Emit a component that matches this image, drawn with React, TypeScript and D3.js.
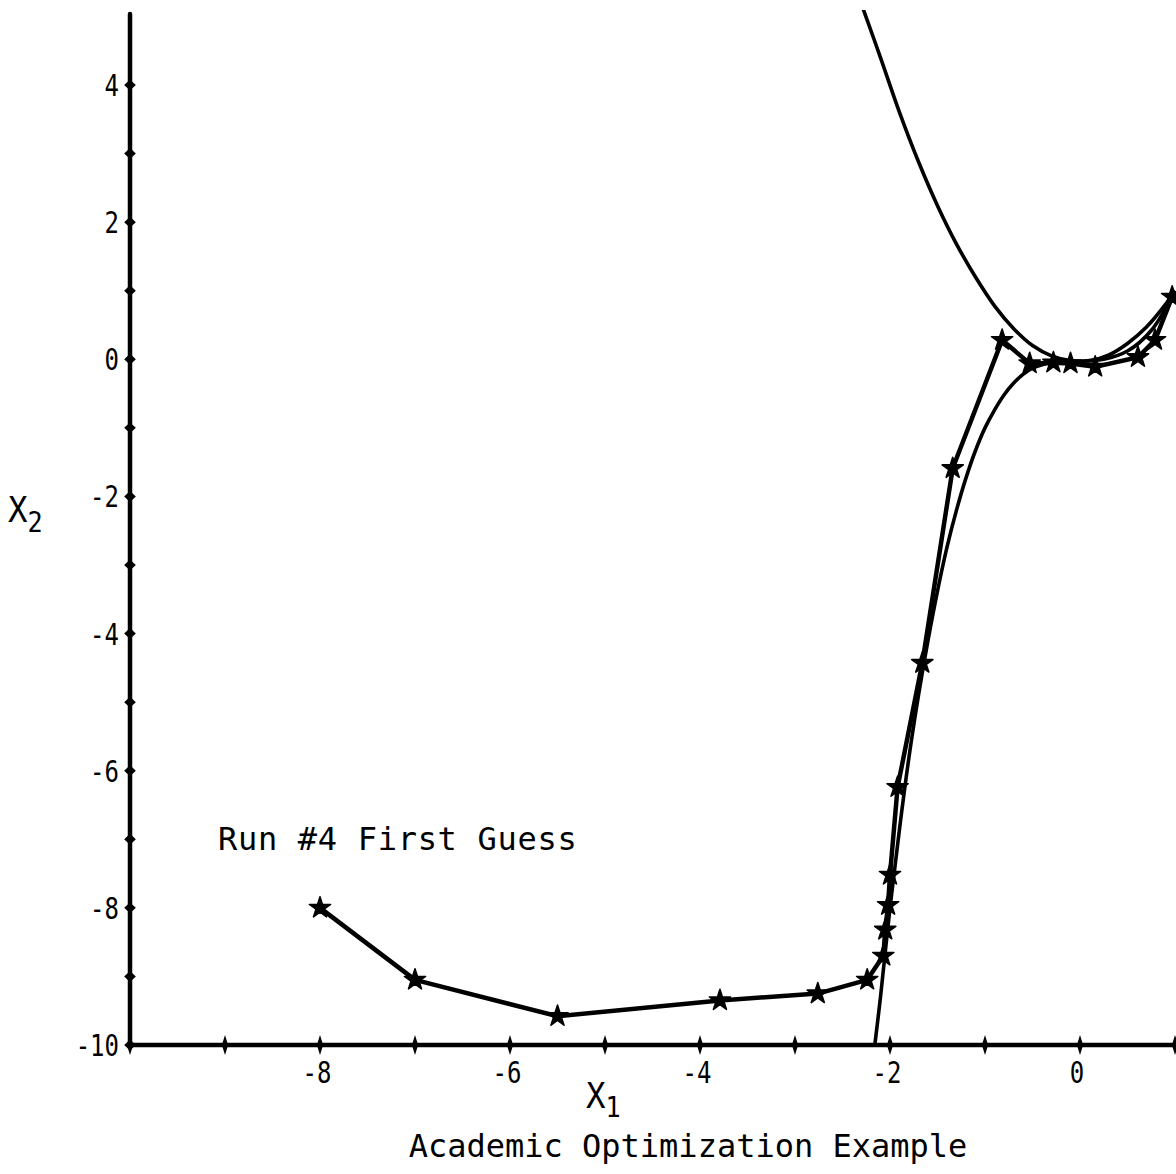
import { useRef, useEffect } from "react";
import * as d3 from "d3";

// tick values on both axes
const xTicks = [-10, -9, -8, -7, -6, -5, -4, -3, -2, -1, 0, 1];
const xTickLabels = [-8, -6, -4, -2, 0];
const yTicks = [-10, -9, -8, -7, -6, -5, -4, -3, -2, -1, 0, 1, 2, 3, 4];
const yTickLabels = [4, 2, 0, -2, -4, -6, -8, -10];

// upper boundary curve
const upperX = [-2.28, -2.1, -1.9, -1.7, -1.5, -1.3, -1.1, -0.9, -0.7, -0.5, -0.3, -0.1, 0.1, 0.3, 0.5, 0.7, 0.9, 1.0];
const upperY = [5.1, 4.4, 3.6, 2.88, 2.24, 1.68, 1.2, 0.78, 0.45, 0.2, 0.05, -0.02, -0.02, 0.06, 0.23, 0.47, 0.8, 1.0];

// lower boundary curve
const lowerX = [-2.16, -2.1, -2.0, -1.9, -1.8, -1.7, -1.6, -1.5, -1.4, -1.3, -1.2, -1.1, -1.0, -0.9, -0.8, -0.7, -0.6, -0.5, -0.4, -0.3, -0.15, 0, 0.25, 0.5, 0.75, 1.0];
const lowerY = [-10, -9.3, -8.0, -6.85, -5.8, -4.9, -4.1, -3.38, -2.74, -2.2, -1.73, -1.33, -1.0, -0.74, -0.52, -0.35, -0.22, -0.13, -0.08, -0.05, -0.04, -0.03, 0.0, 0.12, 0.42, 1.0];

// run #4 iterates, starting from the first guess
const runX = [-8.0, -7.0, -5.5, -3.79, -2.76, -2.24, -2.07, -2.05, -2.02, -2.0, -1.92, -1.66, -1.34, -0.82, -0.53, -0.28, -0.1, 0.16, 0.61, 0.79, 0.97];
const runY = [-8.0, -9.05, -9.58, -9.35, -9.25, -9.05, -8.7, -8.32, -7.96, -7.52, -6.24, -4.43, -1.59, 0.28, -0.06, -0.05, -0.06, -0.11, 0.03, 0.28, 0.91];

const W = 1176;
const H = 1174;

export default function App() {
  const svgRef = useRef<SVGSVGElement>(null);

  useEffect(() => {
    const svg = d3.select(svgRef.current);
    svg.selectAll("*").remove();

    const x = d3.scaleLinear().domain([-10, 0]).range([130, 1080]);
    const y = d3.scaleLinear().domain([-10, 4]).range([1045, 85]);

    // clip the data area
    svg
      .append("defs")
      .append("clipPath")
      .attr("id", "plot")
      .append("rect")
      .attr("x", 130)
      .attr("y", 10)
      .attr("width", W - 130)
      .attr("height", 1040);

    const g = svg.append("g");

    const curve = (xs: number[], ys: number[]) =>
      d3
        .line<number>()
        .curve(d3.curveCatmullRom)
        .x((_, i) => x(xs[i]))
        .y((_, i) => y(ys[i]))(xs);

    const plot = g.append("g").attr("clip-path", "url(#plot)");

    plot
      .append("path")
      .attr("d", curve(upperX, upperY))
      .attr("fill", "none")
      .attr("stroke", "#000")
      .attr("stroke-width", 3.6);

    plot
      .append("path")
      .attr("d", curve(lowerX, lowerY))
      .attr("fill", "none")
      .attr("stroke", "#000")
      .attr("stroke-width", 3.6);

    plot
      .append("path")
      .attr(
        "d",
        d3
          .line<number>()
          .x((_, i) => x(runX[i]))
          .y((_, i) => y(runY[i]))(runX)
      )
      .attr("fill", "none")
      .attr("stroke", "#000")
      .attr("stroke-width", 4.5)
      .attr("stroke-linejoin", "round");

    plot
      .append("g")
      .selectAll("path")
      .data(runX)
      .join("path")
      .attr("transform", (d, i) => `translate(${x(d)},${y(runY[i])})`)
      .attr("d", d3.symbol(d3.symbolStar, 140)())
      .attr("fill", "#000")
      .attr("stroke", "#000")
      .attr("stroke-width", 1.5)
      .attr("stroke-linejoin", "round");

    // axes
    g.append("line")
      .attr("x1", x(-10))
      .attr("x2", x(-10))
      .attr("y1", 14)
      .attr("y2", y(-10))
      .attr("stroke", "#000")
      .attr("stroke-width", 4.5)
      .attr("stroke-linecap", "round");

    g.append("line")
      .attr("x1", x(-10))
      .attr("x2", W)
      .attr("y1", y(-10))
      .attr("y2", y(-10))
      .attr("stroke", "#000")
      .attr("stroke-width", 4.5)
      .attr("stroke-linecap", "round");

    const diamond = d3.symbol(d3.symbolDiamond, 70)();

    g.append("g")
      .selectAll("path")
      .data(yTicks)
      .join("path")
      .attr("transform", (d) => `translate(${x(-10)},${y(d)}) scale(1.3,0.7)`)
      .attr("d", diamond)
      .attr("fill", "#000");

    g.append("g")
      .selectAll("path")
      .data(xTicks)
      .join("path")
      .attr("transform", (d) => `translate(${x(d)},${y(-10)}) scale(0.7,1.3)`)
      .attr("d", diamond)
      .attr("fill", "#000");

    const font = "'DejaVu Sans Mono', monospace";

    // narrow plotter-style tick labels
    g.append("g")
      .selectAll("text")
      .data(yTickLabels)
      .join("text")
      .attr("transform", (d) => `translate(119,${y(d) + 11}) scale(0.8,1)`)
      .attr("text-anchor", "end")
      .style("font-family", font)
      .style("font-size", "30px")
      .text((d) => String(d));

    g.append("g")
      .selectAll("text")
      .data(xTickLabels)
      .join("text")
      .attr("transform", (d) => `translate(${x(d) - 3},1083) scale(0.8,1)`)
      .attr("text-anchor", "middle")
      .style("font-family", font)
      .style("font-size", "30px")
      .text((d) => String(d));

    // axis titles
    const x1 = g
      .append("text")
      .attr("transform", "translate(586,1108) scale(0.9,1)")
      .style("font-family", font)
      .style("font-size", "36px");
    x1.append("tspan").text("X");
    x1.append("tspan").attr("dy", 9).style("font-size", "28px").text("1");

    const x2 = g
      .append("text")
      .attr("transform", "translate(8,522) scale(0.9,1)")
      .style("font-family", font)
      .style("font-size", "36px");
    x2.append("tspan").text("X");
    x2.append("tspan").attr("dy", 10).style("font-size", "28px").text("2");

    g.append("text")
      .attr("x", 218)
      .attr("y", 850)
      .style("font-family", font)
      .style("font-size", "32px")
      .style("letter-spacing", "0.7px")
      .text("Run #4 First Guess");

    g.append("text")
      .attr("x", 688)
      .attr("y", 1157)
      .attr("text-anchor", "middle")
      .style("font-family", font)
      .style("font-size", "32px")
      .text("Academic Optimization Example");
  }, []);

  return (
    <svg
      ref={svgRef}
      width={W}
      height={H}
      style={{ position: "absolute", left: 0, top: 0, background: "#fff" }}
    ></svg>
  );
}
